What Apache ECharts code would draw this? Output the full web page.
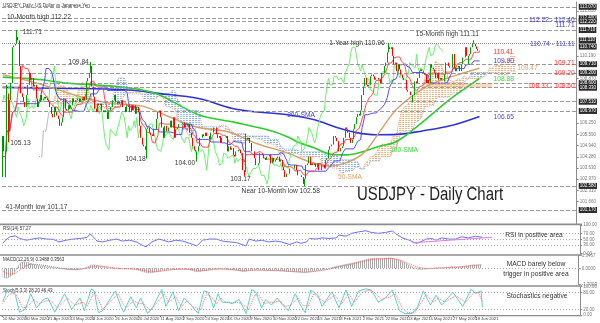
<!DOCTYPE html>
<html>
<head>
<meta charset="utf-8">
<title>USDJPY - Daily Chart</title>
<script src="https://cdn.jsdelivr.net/npm/echarts@6.0.0/dist/echarts.min.js"></script>
<style>
html,body{margin:0;padding:0;background:#ffffff;}
#chart{width:600px;height:323px;}
</style>
</head>
<body>
<div id="chart"></div>
<script>
// ---------- price data: USDJPY daily closes from 10 Mar 2020 ----------
const firstOpen = 103.10;
const closes = [
  // Mar 2020
  105.5,104.6,104.6,108.0,105.8,107.6,108.6,110.7,110.8,110.9,111.3,111.1,109.6,108.0,107.8,107.5,
  // Apr 2020
  107.2,107.9,108.5,109.2,108.8,108.9,108.4,108.5,107.7,107.2,107.5,107.9,107.6,107.7,107.8,107.7,107.6,107.5,107.2,106.8,106.6,107.2,
  // May 2020
  106.9,106.7,106.5,106.1,106.3,106.6,107.7,107.1,107.0,107.3,107.1,107.3,107.7,107.5,107.6,107.6,107.7,107.5,107.7,107.6,107.8,
  // Jun 2020
  107.6,108.7,108.9,109.2,109.6,108.4,107.8,107.1,106.9,107.4,107.3,107.4,107.0,106.9,107.0,106.9,106.5,107.0,107.2,107.2,107.6,107.9,
  // Jul 2020
  107.5,107.4,107.5,107.4,107.6,107.2,107.2,106.9,107.3,107.2,106.9,107.3,107.0,107.3,106.8,107.2,106.9,106.1,105.4,105.0,104.9,104.7,105.9,
  // Aug 2020
  106.0,105.7,105.6,105.5,105.9,105.9,106.5,106.9,107.0,106.6,106.0,105.4,106.1,105.8,105.8,106.0,106.4,106.0,106.6,105.4,105.9,
  // Sep 2020
  106.0,106.2,106.2,106.2,106.3,106.0,106.2,106.1,106.2,105.7,105.4,104.9,104.7,104.6,104.6,104.9,105.4,105.4,105.6,105.5,105.7,105.5,
  // Oct 2020
  105.5,105.3,105.7,105.7,106.0,106.0,105.6,105.4,105.5,105.1,105.4,105.4,105.4,105.5,104.6,104.9,104.7,104.8,104.4,104.3,104.6,104.6,
  // Nov 2020
  104.7,104.5,104.5,103.5,103.4,105.4,105.3,105.4,105.1,104.6,104.6,104.2,103.8,103.8,103.9,104.5,104.5,104.4,104.2,104.1,104.3,
  // Dec 2020
  104.3,104.4,103.9,104.2,104.0,104.1,104.2,104.3,104.0,104.1,103.7,103.5,103.1,103.3,103.3,103.6,103.6,103.6,103.6,103.8,103.5,103.2,103.2,
  // Jan 2021
  103.2,103.1,102.7,103.0,103.8,103.9,104.3,103.8,103.9,103.8,103.9,103.7,103.9,103.5,103.5,103.8,103.8,103.6,104.1,104.2,104.7,
  // Feb 2021
  104.9,105.0,105.0,105.5,105.4,105.2,104.6,104.6,104.8,104.9,105.4,106.0,105.9,105.7,105.4,105.1,105.3,105.9,106.2,106.6,
  // Mar 2021
  106.8,106.7,107.0,107.9,108.4,108.9,108.5,108.4,108.5,109.0,109.1,109.0,108.8,108.9,108.9,108.8,108.6,109.2,109.2,109.6,109.8,110.4,110.7,
  // Apr 2021
  110.6,110.7,110.2,109.7,109.8,109.3,109.7,109.4,109.1,108.9,108.8,108.8,108.2,108.1,108.1,107.9,107.9,107.9,108.7,108.6,108.9,109.3,
  // May 2021
  109.4,109.3,109.2,109.1,108.6,108.8,108.6,109.7,109.5,109.4,109.2,108.9,109.2,108.8,108.9,108.8,108.8,109.1,109.8,109.8,109.6,
  // Jun 2021
  109.5,109.5,110.3,109.5,109.3,109.5,109.6,109.3,109.7,110.1,110.1,110.7,110.2,110.2,110.3,110.7,110.9,110.9,110.75,110.6,110.5,110.45
];
// session extremes that reach beyond the candle bodies: [bar index, price]
const keyHighs = [[3,108.50],[10,111.71],[63,109.84],[174,105.65],[276,110.96],[337,111.11]];
const keyLows  = [[2,103.08],[4,105.13],[103,104.18],[139,104.00],[173,103.17],[216,102.58],[293,107.48],[316,108.69],[333,109.71]];

// horizontal support / resistance levels
const levelLines = [113.07,112.40,112.22,111.71,109.71,109.20,108.60,108.33,107.51,106.97,102.58,101.17];
const dottedLevels = [110.96];
const supportZone = [108.33,108.60];
const supportZoneBars = [303,350];

// moving averages: [bar index, value]
const sma50  = [[0,109.1],[20,108.7],[40,108.2],[60,107.7],[80,107.4],[100,107.25],[120,106.6],[140,106.0],[161,105.75],[182,105.05],[204,104.5],[221,103.95],[234,103.75],[246,103.95],[258,104.5],[270,105.8],[282,107.1],[303,108.4],[324,109.05],[341,109.47]];
const sma100 = [[0,108.95],[28,108.8],[46,108.6],[64,108.5],[92,108.3],[111,107.95],[140,106.75],[166,106.3],[190,105.85],[204,105.45],[211,105.15],[223,104.8],[234,104.45],[246,104.4],[256,104.55],[267,104.85],[282,105.2],[300,106.3],[319,107.6],[330,108.25],[341,108.88]];
const sma200 = [[0,108.35],[40,108.3],[90,108.2],[111,108.0],[140,107.7],[168,107.05],[204,106.75],[223,106.45],[239,106.0],[253,105.7],[267,105.58],[282,105.6],[300,105.8],[320,106.1],[341,106.65]];

// RSI(14)
const rsi = [[0,36],[2,47],[5,59],[9,62],[12,53],[17,47],[21,51],[26,55],[31,51],[36,50],[40,41],[45,47],[50,51],[55,53],[60,57],[62,68],[64,61],[67,44],[71,41],[76,47],[81,51],[85,44],[90,47],[95,41],[99,30],[102,24],[106,41],[111,51],[114,47],[118,41],[123,47],[128,44],[133,36],[138,27],[142,47],[147,51],[152,51],[156,44],[161,41],[166,39],[170,32],[173,27],[175,51],[180,44],[184,47],[189,41],[194,44],[198,41],[204,32],[209,41],[212,36],[216,41],[218,53],[223,51],[227,55],[232,53],[237,55],[239,65],[244,61],[248,71],[253,76],[258,80],[262,74],[267,71],[272,74],[277,79],[279,71],[284,55],[289,47],[294,36],[296,39],[301,51],[305,53],[308,47],[312,55],[317,51],[322,51],[326,59],[331,55],[336,61],[341,57.27]];
const rsiTrend = [[291,38],[348,57]];

// MACD(12,26,9): main line (histogram) and signal
const macdMain = [[0,-0.9],[3,-1.05],[6,-0.8],[9,-0.3],[11,0.2],[13,0.6],[15,0.7],[18,0.6],[22,0.4],[27,0.25],[32,0.15],[37,0.05],[42,-0.05],[47,-0.15],[52,-0.15],[57,-0.05],[60,0.1],[63,0.35],[66,0.35],[70,0.2],[75,0.05],[80,-0.05],[85,-0.05],[90,-0.05],[95,-0.1],[100,-0.35],[104,-0.5],[108,-0.4],[113,-0.2],[118,-0.1],[123,-0.1],[128,-0.05],[133,-0.15],[138,-0.35],[142,-0.3],[147,-0.15],[152,-0.05],[157,-0.05],[162,-0.15],[167,-0.2],[172,-0.35],[176,-0.2],[181,-0.15],[186,-0.2],[191,-0.25],[196,-0.25],[201,-0.3],[206,-0.35],[211,-0.4],[216,-0.45],[221,-0.3],[226,-0.2],[231,-0.1],[236,0.15],[241,0.3],[246,0.45],[251,0.6],[256,0.8],[261,1.0],[266,1.05],[271,1.0],[276,1.1],[281,0.9],[286,0.6],[291,0.2],[296,-0.1],[300,-0.1],[305,0.0],[310,0.05],[315,0.05],[320,0.15],[325,0.15],[330,0.25],[335,0.35],[341,0.3488]];
const macdSignal = [[0,-0.3],[4,-0.6],[8,-0.6],[12,-0.2],[16,0.25],[20,0.45],[25,0.4],[30,0.3],[35,0.18],[40,0.06],[45,-0.05],[50,-0.12],[55,-0.1],[60,0.0],[65,0.2],[70,0.25],[75,0.15],[80,0.03],[85,-0.03],[90,-0.05],[95,-0.08],[100,-0.2],[105,-0.38],[110,-0.35],[115,-0.25],[120,-0.15],[125,-0.1],[130,-0.1],[135,-0.15],[140,-0.25],[145,-0.22],[150,-0.13],[155,-0.08],[160,-0.1],[165,-0.15],[170,-0.25],[175,-0.25],[180,-0.2],[185,-0.2],[190,-0.22],[195,-0.24],[200,-0.27],[205,-0.32],[210,-0.37],[215,-0.4],[220,-0.37],[225,-0.28],[230,-0.17],[235,0.0],[240,0.18],[245,0.33],[250,0.48],[255,0.65],[260,0.85],[265,0.97],[270,1.0],[275,1.05],[280,0.97],[285,0.75],[290,0.45],[295,0.15],[300,0.0],[305,-0.03],[310,0.02],[315,0.05],[320,0.1],[325,0.13],[330,0.2],[335,0.3],[341,0.3563]];

// Stochastic(5,3,3): %K and %D
const stochK = [[0,47],[3,84],[6,84],[9,70],[12,10],[16,20],[20,75],[24,25],[29,55],[32,60],[37,10],[44,75],[49,20],[55,60],[58,15],[63,92],[65,85],[68,8],[71,15],[80,85],[84,30],[86,10],[91,65],[95,25],[98,60],[103,5],[107,30],[113,90],[116,30],[121,82],[125,15],[129,60],[133,40],[139,5],[143,85],[146,80],[150,25],[153,75],[156,45],[161,45],[163,40],[168,55],[173,5],[177,90],[180,80],[184,25],[187,55],[191,35],[195,60],[199,35],[203,15],[208,75],[211,40],[215,8],[219,88],[224,70],[227,30],[234,82],[239,25],[244,88],[248,30],[253,85],[258,92],[262,88],[267,45],[272,60],[277,88],[282,15],[286,5],[291,5],[295,30],[299,85],[304,35],[308,70],[312,35],[320,80],[327,30],[333,92],[336,75],[340,85],[341,28.2]];
const stochD = [[0,40],[4,70],[8,80],[11,60],[14,25],[18,30],[22,55],[26,40],[31,50],[34,50],[39,25],[46,60],[51,35],[57,45],[60,30],[65,80],[68,55],[71,20],[75,40],[82,75],[86,35],[88,25],[93,50],[97,40],[100,40],[105,15],[109,40],[115,75],[118,45],[123,65],[127,30],[131,50],[135,30],[141,20],[145,75],[148,65],[152,40],[155,60],[158,45],[163,42],[166,45],[170,40],[175,20],[179,70],[182,70],[186,40],[189,45],[193,45],[197,50],[201,30],[205,35],[210,60],[213,35],[217,30],[221,75],[226,55],[229,45],[236,70],[241,40],[246,75],[250,45],[255,78],[260,88],[264,80],[269,55],[274,62],[279,75],[284,25],[288,8],[293,10],[297,40],[301,72],[306,45],[310,60],[314,45],[322,68],[329,45],[335,80],[338,80],[341,46.43]];

// axis labels
const tickLabels = ['10 Mar 2020','30 Mar 2020','21 Apr 2020','13 May 2020','4 Jun 2020','26 Jun 2020','20 Jul 2020','11 Aug 2020','2 Sep 2020','24 Sep 2020','16 Oct 2020','9 Nov 2020','30 Nov 2020','22 Dec 2020','15 Jan 2021','8 Feb 2021','2 Mar 2021','22 Mar 2021','13 Apr 2021','5 May 2021','27 May 2021','18 Jun 2021'];
const priceTicks = [112.81,110.19,108.87,106.25,105.59,104.94,104.28,103.63,102.97,102.31,101.66];
const levelTags = [113.07,112.40,112.22,111.71,111.11,110.74,109.71,109.20,108.60,108.33,107.51,106.97,102.58,101.17];

// ---------- derived series ----------
const FONT = '"Liberation Sans",Arial,sans-serif';
const NARROW = 0.83;          // horizontal squeeze for the annotation typeface
const N_CAT = 411;
const LABEL_STEP = 16;
const cats = [];
(function () {
  const mon = ['Jan','Feb','Mar','Apr','May','Jun','Jul','Aug','Sep','Oct','Nov','Dec'];
  const d = new Date(Date.UTC(2020, 2, 10));
  while (cats.length < N_CAT) {
    const w = d.getUTCDay();
    if (w !== 0 && w !== 6) cats.push(d.getUTCDate() + ' ' + mon[d.getUTCMonth()] + ' ' + d.getUTCFullYear());
    d.setUTCDate(d.getUTCDate() + 1);
  }
})();

const hiMap = new Map(keyHighs), loMap = new Map(keyLows);
const candles = closes.map((c, i) => {
  const o = i ? closes[i - 1] : firstOpen;
  const lo = loMap.has(i) ? loMap.get(i) : Math.min(o, c);
  const hi = hiMap.has(i) ? hiMap.get(i) : Math.max(o, c);
  return [o, c, lo, hi];
});
const highs = candles.map(d => d[3]), lows = candles.map(d => d[2]);
function midRange(a, b) {
  let h = -Infinity, l = Infinity;
  for (let k = Math.max(0, a); k <= b; k++) { h = Math.max(h, highs[k]); l = Math.min(l, lows[k]); }
  return (h + l) / 2;
}
// Ichimoku (9, 26, 52)
const tenkan = closes.map((_, i) => [i, midRange(i - 8, i)]);
const kijun = closes.map((_, i) => [i, midRange(i - 25, i)]);
const spanA = closes.map((_, i) => [i + 26, (tenkan[i][1] + kijun[i][1]) / 2]);
const spanB = closes.map((_, i) => [i + 26, midRange(i - 51, i)]);
const chikou = closes.map((c, i) => [i - 26, c]).filter(p => p[0] >= 0);
const cloud = spanA.map((p, k) => [p[0], p[1], spanB[k][1]]);

function hatch(color, w, h) {
  const c = document.createElement('canvas');
  c.width = w; c.height = h;
  const g = c.getContext('2d');
  g.fillStyle = color;
  g.fillRect(0, 0, 2, 1);
  return { image: c, repeat: 'repeat' };
}
function stripes(color) {
  const c = document.createElement('canvas');
  c.width = 2; c.height = 1;
  const g = c.getContext('2d');
  g.fillStyle = color;
  g.fillRect(0, 0, 1, 1);
  return { image: c, repeat: 'repeat' };
}
const bluePat = hatch('#86aee8', 3, 2);
const orangePat = hatch('#f2ac70', 3, 2);

// ---------- layout ----------
const G = [
  { left: 2, right: 18, top: 2, height: 222 },
  { left: 2, right: 18, top: 225, height: 28.7 },
  { left: 2, right: 18, top: 255.5, height: 29 },
  { left: 2, right: 18, top: 286.6, height: 28.4 }
];
const showTick = i => i % LABEL_STEP === 0 && i / LABEL_STEP < tickLabels.length;
function xAx(g, ticks) {
  return {
    type: 'category', gridIndex: g, data: cats, boundaryGap: true,
    axisLine: { show: false },
    axisTick: { show: ticks, interval: showTick, alignWithLabel: true, length: 2, lineStyle: { color: '#777' } },
    axisLabel: { show: false },
    splitLine: { show: false }
  };
}
function yAx(g, min, max, vals, digits, extra) {
  return Object.assign({
    type: 'value', gridIndex: g, min: min, max: max, position: 'right',
    axisLine: { show: true, lineStyle: { color: '#8c8c8c', width: 1 } },
    axisTick: { show: true, length: 2, customValues: vals, lineStyle: { color: '#888' } },
    axisLabel: { customValues: vals, formatter: v => v.toFixed(digits), fontSize: 4.5, color: '#777', margin: 3, fontFamily: FONT },
    splitLine: { show: false }
  }, extra || {});
}

const PMIN = 100.35, PMAX = 113.35;
const fx = v => v.toFixed(2);
const H = i => hiMap.get(i), L = i => loMap.get(i);
const lastI = closes.length - 1;
const sLast = a => a[a.length - 1][1];
const DARK = '#3a3a3a', BLUE = '#3b3bd8', RED = '#ff3030', TAN = '#d9a36e', GREEN = '#33d433';

// price annotations anchored to bars / levels: [bar, price, text, colour, align, dx, dy]
const notes = [
  [3, 112.22, '10-Month high ' + fx(112.22), DARK, 'left', 0, -5],
  [10, H(10), fx(H(10)), DARK, 'left', 6, 2],
  [63, H(63), fx(H(63)), DARK, 'right', -2, 0],
  [276, H(276), '1-Year high ' + fx(H(276)), DARK, 'right', -4, 0],
  [337, H(337), '15-Month high ' + fx(H(337)), DARK, 'right', 5, -6],
  [4, L(4), fx(L(4)), DARK, 'left', 2, 0],
  [103, L(103), fx(L(103)), DARK, 'right', -1, 0],
  [139, L(139), fx(L(139)), DARK, 'right', -2, 1],
  [173, L(173), fx(L(173)), DARK, 'right', 6, 3],
  [216, L(216), 'Near 10-Month low ' + fx(L(216)), DARK, 'center', -24, 5],
  [2, 101.17, '41-Month low ' + fx(101.17), DARK, 'left', 0, -3],
  [409, 112.31, fx(112.22) + ' - ' + fx(112.40), BLUE, 'right', 0, 0],
  [409, 111.71, fx(111.71), BLUE, 'right', 0, -5],
  [409, 110.93, fx(110.74) + ' - ' + fx(111.11), BLUE, 'right', 0, 0],
  [409, 109.71, fx(109.71), RED, 'right', 0, -1],
  [409, 109.20, fx(109.20), RED, 'right', 0, 0],
  [409, 108.465, fx(108.33) + ' - ' + fx(108.60), RED, 'right', 0, 0],
  [351, tenkan[lastI][1], fx(tenkan[lastI][1]), RED, 'left', 0, 0],
  [351, kijun[lastI][1], fx(kijun[lastI][1]), BLUE, 'left', 0, 0],
  [368, sLast(sma50), fx(sLast(sma50)), TAN, 'left', 0, 0],
  [351, sLast(sma100), fx(sLast(sma100)), GREEN, 'left', 0, 0],
  [351, sLast(sma200), fx(sLast(sma200)), '#4a4ae0', 'left', 0, 0]
];

const dotLine = (name, data, color, g, width, type) => ({
  name: name, type: 'line', xAxisIndex: g, yAxisIndex: g === 0 ? 0 : g + 1, data: data,
  symbol: 'none', silent: true, animation: false,
  lineStyle: { color: color, width: width || 1, type: type || 'solid' }
});

const option = {
  animation: false,
  backgroundColor: '#ffffff',
  textStyle: { fontFamily: FONT },
  grid: G,
  xAxis: [xAx(0, false), xAx(1, false), xAx(2, false), xAx(3, true)],
  yAxis: [
    yAx(0, PMIN, PMAX, priceTicks, 3),
    yAx(0, PMIN, PMAX, levelTags, 3, {
      axisLine: { show: false }, axisTick: { show: false },
      axisLabel: { customValues: levelTags, formatter: v => v.toFixed(3), fontSize: 4.5, color: '#ffffff',
        backgroundColor: '#2d2d2d', padding: [1, 1, 0, 1], margin: 2, fontFamily: FONT }
    }),
    yAx(1, 0, 100, [0, 30, 50, 70, 100], 2),
    yAx(2, -1.7003, 1.3467, [-1.7003, 0, 1.3467], 4),
    yAx(3, 0, 100, [0, 20, 80, 100], 2)
  ],
  series: [
    {
      name: 'cloud', type: 'custom', xAxisIndex: 0, yAxisIndex: 0, data: cloud, silent: true, z: 1,
      encode: { x: 0, y: [1, 2] },
      renderItem: function (params, api) {
        const k = params.dataIndex;
        if (k >= cloud.length - 1) return null;
        const p = cloud[k], q = cloud[k + 1];
        const pts = [api.coord([p[0], p[1]]), api.coord([q[0], q[1]]), api.coord([q[0], q[2]]), api.coord([p[0], p[2]])];
        const bull = (p[1] + q[1]) >= (p[2] + q[2]);
        return { type: 'polygon', shape: { points: pts }, style: { fill: bull ? orangePat : bluePat } };
      }
    },
    Object.assign(dotLine('Senkou A', spanA, '#f0a060', 0, 1, 'dotted'), { z: 2 }),
    Object.assign(dotLine('Senkou B', spanB, '#8fb0e8', 0, 1, 'dotted'), { z: 2 }),
    Object.assign(dotLine('SMA 200', sma200, '#3232d2', 0, 1.6), { smooth: 0.35, z: 3 }),
    Object.assign(dotLine('SMA 100', sma100, '#2ecc2e', 0, 1.6), { smooth: 0.35, z: 3 }),
    Object.assign(dotLine('SMA 50', sma50, '#d6a06a', 0, 1.4), { smooth: 0.35, z: 3 }),
    Object.assign(dotLine('Chikou', chikou, '#6cf06c', 0, 1), { z: 4 }),
    Object.assign(dotLine('Kijun', kijun, '#3a3aff', 0, 0.9), { z: 4 }),
    Object.assign(dotLine('Tenkan', tenkan, '#ff3a3a', 0, 0.9), { z: 4 }),
    {
      name: 'USDJPY', type: 'candlestick', xAxisIndex: 0, yAxisIndex: 0, data: candles, barWidth: 1, z: 5,
      silent: true,
      itemStyle: { color: '#00a000', color0: '#ff0000', borderColor: '#00a000', borderColor0: '#ff0000', borderWidth: 1 },
      markLine: {
        silent: true, symbol: 'none', label: { show: false }, animation: false,
        lineStyle: { type: [4, 2], color: '#9a9a9a', width: 1 },
        data: levelLines.map(v => ({ yAxis: v }))
          .concat(dottedLevels.map(v => ({ yAxis: v, lineStyle: { type: [1, 1], color: '#8a8a8a', width: 1 } })))
      },
      markArea: {
        silent: true, itemStyle: { color: 'rgba(244,186,132,0.55)' },
        data: [[{ coord: [supportZoneBars[0], supportZone[1]] }, { coord: [supportZoneBars[1], supportZone[0]] }]]
      }
    },
    // RSI
    Object.assign(dotLine('RSI', rsi, '#6e6eff', 1, 1), {
      markLine: { silent: true, symbol: 'none', label: { show: false }, animation: false,
        lineStyle: { type: [1, 2], color: '#a8a8a8', width: 1 }, data: [{ yAxis: 30 }, { yAxis: 50 }, { yAxis: 70 }] }
    }),
    dotLine('RSI trend', rsiTrend, '#e27ae2', 1, 1),
    // MACD
    Object.assign(dotLine('MACD', macdMain, '#b4b4b4', 2, 0.6), {
      areaStyle: { color: stripes('#a8a8a8'), origin: 'auto', opacity: 1 },
      markLine: { silent: true, symbol: 'none', label: { show: false }, animation: false,
        lineStyle: { type: [1, 2], color: '#a8a8a8', width: 1 }, data: [{ yAxis: 0 }] }
    }),
    dotLine('Signal', macdSignal, '#ff5a5a', 2, 1, [1, 1]),
    // Stochastics
    Object.assign(dotLine('%K', stochK, '#5ccfcf', 3, 1), {
      markLine: { silent: true, symbol: 'none', label: { show: false }, animation: false,
        lineStyle: { type: [1, 2], color: '#a8a8a8', width: 1 }, data: [{ yAxis: 20 }, { yAxis: 80 }] }
    }),
    dotLine('%D', stochD, '#ff6a6a', 3, 1, [1, 1])
  ]
};

const chart = echarts.init(document.getElementById('chart'), null, { renderer: 'canvas' });
chart.setOption(option);

// ---------- text overlay (narrowed annotation typeface) ----------
function txt(x, y, text, size, fill, align, extra) {
  return Object.assign({
    type: 'text', x: x, y: y, scaleX: NARROW, silent: true, z: 20,
    style: { text: text, fontSize: size, fill: fill, fontFamily: FONT, align: align || 'left', verticalAlign: 'middle' }
  }, extra || {});
}
const rule = (y, h) => ({ type: 'rect', shape: { x: 0, y: y, width: 582, height: h }, style: { fill: '#8c8c8c' }, silent: true, z: 20 });
const small = (x, y, text) => ({ type: 'text', x: x, y: y, silent: true, style: { text: text, fontSize: 4.5, fill: '#333', fontFamily: FONT } });

const graphics = [
  rule(223.6, 1.6), rule(254.2, 1.6), rule(285.2, 1.6), rule(315, 1.2),
  small(3, 3, 'USDJPY, Daily: US Dollar vs Japanese Yen'),
  small(3, 226.5, 'RSI(14) 57.27'),
  small(3, 257, 'MACD(12,26,9) 0.3488 0.3563'),
  small(3, 288, 'Stoch(5,3,3) 28.20 46.43'),
  txt(357, 195, 'USDJPY - Daily Chart', 18, '#222'),
  txt(301, 115, '200-SMA', 8, BLUE, 'center'),
  txt(404, 150, '100-SMA', 8, GREEN, 'center'),
  txt(350, 177, '50-SMA', 8, TAN, 'center'),
  txt(534, 235, 'RSI in positive area', 8, '#333', 'center'),
  txt(536, 264, 'MACD barely below', 8, '#333', 'center'),
  txt(536, 273.5, 'trigger in positive area', 8, '#333', 'center'),
  txt(537, 296, 'Stochastics negative', 8, '#333', 'center')
];
notes.forEach(n => {
  const p = chart.convertToPixel({ gridIndex: 0 }, [n[0], n[1]]);
  graphics.push(txt(p[0] + n[5], p[1] + n[6], n[2], 8, n[3], n[4]));
});
// date labels under the bottom panel, one every LABEL_STEP bars
tickLabels.forEach((t, k) => {
  const p = chart.convertToPixel({ gridIndex: 3 }, [k * LABEL_STEP, 0]);
  graphics.push({ type: 'text', x: p[0], y: 318.5, silent: true,
    style: { text: t, fontSize: 4.2, fill: '#444', fontFamily: FONT, align: 'left', verticalAlign: 'middle' } });
});
chart.setOption({ graphic: graphics });
</script>
</body>
</html>
